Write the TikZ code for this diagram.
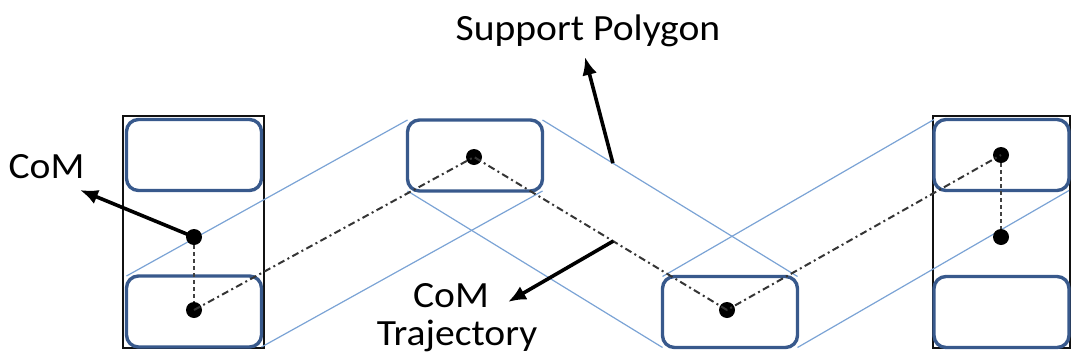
\documentclass[tikz,border=0pt]{standalone}
\usepackage{fontspec}
\setmainfont{Carlito}
\usetikzlibrary{arrows.meta}
\definecolor{footblue}{HTML}{38598C}
\definecolor{polyblue}{HTML}{7BA3D5}
\definecolor{ink}{HTML}{111111}
\newcommand{\widetext}[1]{\scalebox{1.07}[1]{#1}}
\begin{document}
\begin{tikzpicture}[x=1pt,y=-1pt,
  foot/.style={draw=footblue,line width=3.4pt,rounded corners=12pt,
    minimum width=135pt,minimum height=71pt,inner sep=0pt,outer sep=0pt},
  stand/.style={draw=ink,line width=1.3pt,minimum width=#1,minimum height=232pt,
    inner sep=0pt,outer sep=0pt},
  com/.style={circle,fill=black,minimum size=16pt,inner sep=0pt},
  polyline/.style={draw=polyblue,line width=1.2pt},
  traj/.style={draw=ink!85,line width=2pt,dash pattern=on 7pt off 3.5pt on 2pt off 3.5pt},
  vlink/.style={draw=ink!80,line width=2pt,dash pattern=on 4pt off 3pt},
  pointer/.style={draw=black,line width=3.6pt,-{Latex[length=18pt,width=15pt]}},
  label/.style={font=\fontsize{37}{40}\selectfont,inner sep=0pt,anchor=base}]
\useasboundingbox (0,0) rectangle (1072,362);

% stance frames of the double-support phases
\node[stand=141pt] (standL) at (193.5,232) {};
\node[stand=137pt] (standR) at (1001.5,232) {};

% footprints
\node[foot] (LT) at (194,155) {};
\node[foot] (LB) at (194,311.5) {};
\node[foot] (MT) at (475,155.5) {};
\node[foot] (MB) at (730,312) {};
\node[foot] (RT) at (1001.5,155) {};
\node[foot] (RB) at (1001.5,312) {};

% support polygon edges
\draw[polyline] (LB.north west) -- (MT.north west);
\draw[polyline] (LB.south east) -- (MT.south east);
\draw[polyline] (MT.north east) -- coordinate[pos=0.276] (spHit) (MB.north east);
\draw[polyline] (MT.south west) -- (MB.south west);
\draw[polyline] (MB.north west) -- (RT.north west);
\draw[polyline] (MB.south east) -- (RT.south east);

% centre of mass positions
\node[com] (cLU) at (194,237) {};
\node[com] (cLB) at (194,310) {};
\node[com] (cMT) at (474,157) {};
\node[com] (cMB) at (727,310) {};
\node[com] (cRT) at (1001,155) {};
\node[com] (cRU) at (1001,237) {};

% CoM trajectory
\draw[traj] (cLB.center) -- (cMT.center) -- coordinate[pos=0.55] (trHit) (cMB.center) -- (cRT.center);
\draw[vlink] (cLU) -- (cLB);
\draw[vlink] (cRT) -- (cRU);

% labels
\node[label] (lblCoM) at (46.5,178) {\widetext{CoM}};
\node[label] (lblSP) at (588,40) {\widetext{Support Polygon}};
\node[label] (lblTr1) at (451,307) {\widetext{CoM}};
\node[label] (lblTr2) at (457,345) {\widetext{Trajectory}};

% pointers
\coordinate (tipCoM) at (80,190);
\coordinate (tipSP) at (585,57);
\coordinate (tipTr) at (508,302);
\draw[pointer] (cLU.center) -- (tipCoM);
\draw[pointer] (spHit) -- (tipSP);
\draw[pointer] (trHit) -- (tipTr);
\end{tikzpicture}
\end{document}
